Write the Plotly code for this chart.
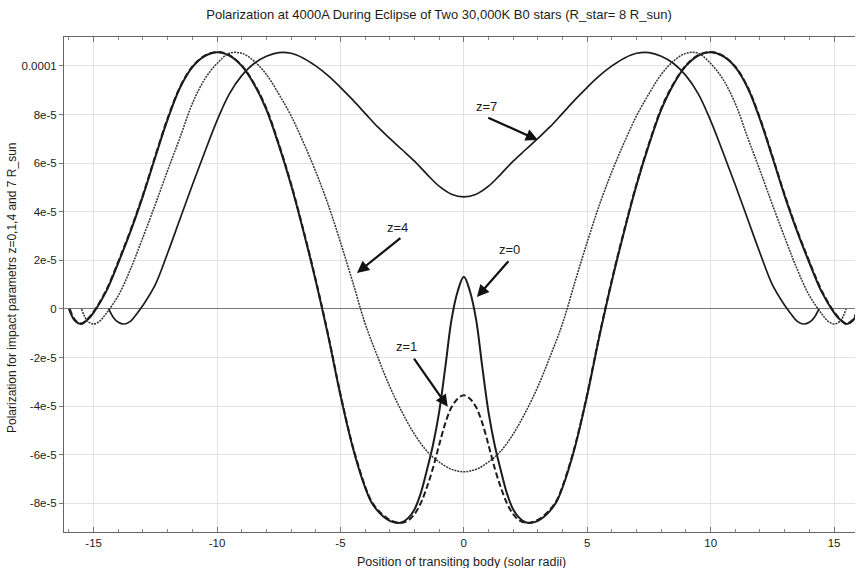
import plotly.graph_objects as go

# ---- data (y values in units of 1e-5) ----
x_z0 = [-16.0, -15.75, -15.5, -15.25, -15.0, -14.5, -14.0, -13.5, -13.0, -12.5, -12.0, -11.5, -11.0, -10.5,
        -10.0, -9.5, -9.0, -8.5, -8.0, -7.5, -7.0, -6.5, -6.0, -5.5, -5.0, -4.5, -4.0, -3.75, -3.5, -3.25,
        -3.0, -2.75, -2.5, -2.25, -2.0, -1.75, -1.5, -1.25, -1.0, -0.75, -0.5, -0.25, 0.0,
        0.25, 0.5, 0.75, 1.0, 1.25, 1.5, 1.75, 2.0, 2.25, 2.5, 2.75, 3.0, 3.25, 3.5, 3.75, 4.0, 4.5,
        5.0, 5.5, 6.0, 6.5, 7.0, 7.5, 8.0, 8.5, 9.0, 9.5, 10.0, 10.5, 11.0, 11.5, 12.0, 12.5, 13.0,
        13.5, 14.0, 14.5, 15.0, 15.25, 15.5, 15.75, 16.0]
y_z0 = [0.0, -0.5, -0.62, -0.45, -0.15, 0.7, 1.9, 3.2, 4.65, 6.25, 7.8, 9.1, 9.95, 10.4,
        10.56, 10.42, 10.0, 9.25, 8.2, 6.75, 5.1, 3.2, 1.15, -1.1, -3.55, -5.7, -7.35, -7.95, -8.3, -8.55,
        -8.72, -8.8, -8.78, -8.6, -8.25, -7.6, -6.65, -5.6, -4.25, -2.4, -0.45, 0.72, 1.32,
        0.72, -0.45, -2.4, -4.25, -5.6, -6.65, -7.6, -8.25, -8.6, -8.78, -8.8, -8.72, -8.55, -8.3, -7.95, -7.35, -5.7,
        -3.55, -1.1, 1.15, 3.2, 5.1, 6.75, 8.2, 9.25, 10.0, 10.42, 10.56, 10.4, 9.95, 9.1, 7.8, 6.25, 4.65,
        3.2, 1.9, 0.7, -0.15, -0.45, -0.62, -0.5, 0.0]

x_z1 = [-15.97, -15.75, -15.5, -15.25, -15.0, -14.5, -14.0, -13.5, -13.0, -12.5, -12.0, -11.5, -11.0, -10.5,
        -10.0, -9.5, -9.0, -8.5, -8.0, -7.5, -7.0, -6.5, -6.0, -5.5, -5.0, -4.5, -4.0, -3.75, -3.5, -3.25,
        -3.0, -2.75, -2.5, -2.25, -2.0, -1.75, -1.5, -1.25, -1.0, -0.75, -0.5, -0.25, 0.0,
        0.25, 0.5, 0.75, 1.0, 1.25, 1.5, 1.75, 2.0, 2.25, 2.5, 2.75, 3.0, 3.25, 3.5, 3.75, 4.0, 4.5,
        5.0, 5.5, 6.0, 6.5, 7.0, 7.5, 8.0, 8.5, 9.0, 9.5, 10.0, 10.5, 11.0, 11.5, 12.0, 12.5, 13.0,
        13.5, 14.0, 14.5, 15.0, 15.25, 15.5, 15.75, 15.97]
y_z1 = [0.0, -0.45, -0.6, -0.42, -0.12, 0.75, 1.95, 3.25, 4.7, 6.3, 7.85, 9.13, 9.97, 10.42,
        10.57, 10.44, 10.02, 9.28, 8.25, 6.8, 5.15, 3.25, 1.2, -1.05, -3.5, -5.65, -7.3, -7.9, -8.25, -8.5,
        -8.68, -8.78, -8.8, -8.7, -8.45, -8.0, -7.35, -6.55, -5.6, -4.7, -4.05, -3.7, -3.55,
        -3.7, -4.05, -4.7, -5.6, -6.55, -7.35, -8.0, -8.45, -8.7, -8.8, -8.78, -8.68, -8.5, -8.25, -7.9, -7.3, -5.65,
        -3.5, -1.05, 1.2, 3.25, 5.15, 6.8, 8.25, 9.28, 10.02, 10.44, 10.57, 10.42, 9.97, 9.13, 7.85, 6.3, 4.7,
        3.25, 1.95, 0.75, -0.12, -0.42, -0.6, -0.45, 0.0]

x_z4 = [-15.49, -15.25, -15.0, -14.75, -14.5, -14.0, -13.5, -13.0, -12.5, -12.0, -11.5, -11.0, -10.5, -10.0,
        -9.5, -9.0, -8.5, -8.0, -7.5, -7.0, -6.5, -6.0, -5.5, -5.0, -4.5, -4.0, -3.5, -3.0, -2.5, -2.0,
        -1.5, -1.0, -0.5, 0.0,
        0.5, 1.0, 1.5, 2.0, 2.5, 3.0, 3.5, 4.0, 4.5, 5.0, 5.5, 6.0, 6.5, 7.0, 7.5, 8.0, 8.5, 9.0, 9.5,
        10.0, 10.5, 11.0, 11.5, 12.0, 12.5, 13.0, 13.5, 14.0, 14.5, 14.75, 15.0, 15.25, 15.49]
y_z4 = [0.0, -0.5, -0.62, -0.5, -0.2, 0.55, 1.65, 2.95, 4.3, 5.7, 7.05, 8.45, 9.45, 10.1,
        10.52, 10.52, 10.2, 9.65, 8.85, 7.95, 6.85, 5.65, 4.3, 2.75, 1.1, -0.6, -1.95, -3.2, -4.25, -5.15,
        -5.85, -6.3, -6.6, -6.7,
        -6.6, -6.3, -5.85, -5.15, -4.25, -3.2, -1.95, -0.6, 1.1, 2.75, 4.3, 5.65, 6.85, 7.95, 8.85, 9.65, 10.2, 10.52, 10.52,
        10.1, 9.45, 8.45, 7.05, 5.7, 4.3, 2.95, 1.65, 0.55, -0.2, -0.5, -0.62, -0.5, 0.0]

x_z7 = [-14.39, -14.2, -14.0, -13.75, -13.5, -13.25, -13.0, -12.5, -12.0, -11.5, -11.0, -10.5, -10.0, -9.5,
        -9.0, -8.5, -8.0, -7.5, -7.0, -6.5, -6.0, -5.5, -5.0, -4.5, -4.0, -3.5, -3.0, -2.5, -2.0, -1.5,
        -1.0, -0.5, 0.0,
        0.5, 1.0, 1.5, 2.0, 2.5, 3.0, 3.5, 4.0, 4.5, 5.0, 5.5, 6.0, 6.5, 7.0, 7.5, 8.0, 8.5, 9.0, 9.5,
        10.0, 10.5, 11.0, 11.5, 12.0, 12.5, 13.0, 13.25, 13.5, 13.75, 14.0, 14.2, 14.39]
y_z7 = [0.0, -0.35, -0.55, -0.62, -0.5, -0.2, 0.15, 1.0, 2.3, 3.7, 5.1, 6.45, 7.75, 8.85,
        9.6, 10.1, 10.4, 10.55, 10.52, 10.32, 10.0, 9.6, 9.12, 8.6, 8.05, 7.5, 7.02, 6.55, 6.08, 5.55,
        5.05, 4.72, 4.61,
        4.72, 5.05, 5.55, 6.08, 6.55, 7.02, 7.5, 8.05, 8.6, 9.12, 9.6, 10.0, 10.32, 10.52, 10.55, 10.4, 10.1, 9.6, 8.85,
        7.75, 6.45, 5.1, 3.7, 2.3, 1.0, 0.15, -0.2, -0.5, -0.62, -0.55, -0.35, 0.0]

scale = 1e-5

x_ticks = [-15, -10, -5, 0, 5, 10, 15]
y_tick_vals = [-8e-5, -6e-5, -4e-5, -2e-5, 0, 2e-5, 4e-5, 6e-5, 8e-5, 1e-4]
y_tick_text = ["-8e-5", "-6e-5", "-4e-5", "-2e-5", "0", "2e-5", "4e-5", "6e-5", "8e-5", "0.0001"]

labels = [
    # text, text_x, text_y(1e-5), tail_x, tail_y, head_x, head_y
    ("z=7", 0.93, 8.31, 0.93, 7.9, 3.0, 6.95),
    ("z=4", -2.67, 3.37, -2.51, 2.96, -4.33, 1.48),
    ("z=0", 1.86, 2.43, 1.86, 2.02, 0.53, 0.49),
    ("z=1", -2.31, -1.56, -2.06, -1.98, -0.65, -4.03),
]

INK = "#1c1c1c"
FONT = "Liberation Sans, Arial, Helvetica, sans-serif"

fig = go.Figure()
series = [
    (x_z0, y_z0, dict(color=INK, width=2.0)),
    (x_z1, y_z1, dict(color=INK, width=2.0, dash="6px,3px")),
    (x_z4, y_z4, dict(color="#333333", width=1.5, dash="2px,1px")),
    (x_z7, y_z7, dict(color=INK, width=1.7)),
]
for xs, ys, ln in series:
    fig.add_trace(go.Scatter(x=xs, y=[v * scale for v in ys], mode="lines",
                             line=dict(shape="spline", smoothing=1.0, **ln),
                             showlegend=False, hoverinfo="skip"))

for text, tx, ty, ax_, ay_, hx, hy in labels:
    fig.add_annotation(x=tx, y=ty * scale, text=text, showarrow=False,
                       font=dict(family=FONT, size=13, color=INK), xanchor="center", yanchor="middle")
    fig.add_annotation(x=hx, y=hy * scale, ax=ax_, ay=ay_ * scale, axref="x", ayref="y",
                       text="", showarrow=True, arrowhead=2, arrowsize=1.1, arrowwidth=2.2,
                       arrowcolor="#111111")

fig.add_annotation(xref="paper", yref="paper", x=(12 - 64) / 791, y=(532 - 288) / 495,
                   text="Polarization for impact parametrs z=0,1,4 and 7 R_sun", textangle=-90,
                   showarrow=False, font=dict(family=FONT, size=12, color=INK),
                   xanchor="center", yanchor="middle")
fig.add_annotation(xref="paper", yref="paper", x=(462 - 64) / 791, y=(532 - 562) / 495,
                   text="Position of transiting body (solar radii)",
                   showarrow=False, font=dict(family=FONT, size=12.5, color=INK),
                   xanchor="center", yanchor="middle")

fig.update_layout(
    width=856, height=568,
    margin=dict(l=64, r=1, t=37, b=36),
    paper_bgcolor="white", plot_bgcolor="white",
    title=dict(text="Polarization at 4000A During Eclipse of Two 30,000K B0 stars (R_star= 8 R_sun)",
               xref="container", yref="container", x=439 / 856, y=1 - 14 / 568,
               xanchor="center", yanchor="middle",
               font=dict(family=FONT, size=13, color=INK)),
    font=dict(family=FONT, size=11.5, color=INK),
    xaxis=dict(range=[-16.2, 15.85], tickvals=x_ticks, ticktext=[str(v) for v in x_ticks],
               showgrid=True, gridcolor="#e2e2e2", gridwidth=1, zeroline=False,
               showline=True, linecolor="#666666", linewidth=1, mirror="ticks",
               ticks="inside", ticklen=5, tickcolor="#777777",
               minor=dict(dtick=1, ticks="inside", ticklen=3, tickcolor="#888888", showgrid=False),
               tickfont=dict(family=FONT, size=11.5, color=INK)),
    yaxis=dict(range=[-9.18e-5, 11.19e-5], tickvals=y_tick_vals, ticktext=y_tick_text,
               showgrid=True, gridcolor="#e2e2e2", gridwidth=1,
               zeroline=True, zerolinecolor="#777777", zerolinewidth=1.2,
               showline=True, linecolor="#666666", linewidth=1,
               ticks="outside", ticklen=4, tickcolor="#777777",
               tickfont=dict(family=FONT, size=11.5, color=INK)),
)

fig.write_html("out.html")
